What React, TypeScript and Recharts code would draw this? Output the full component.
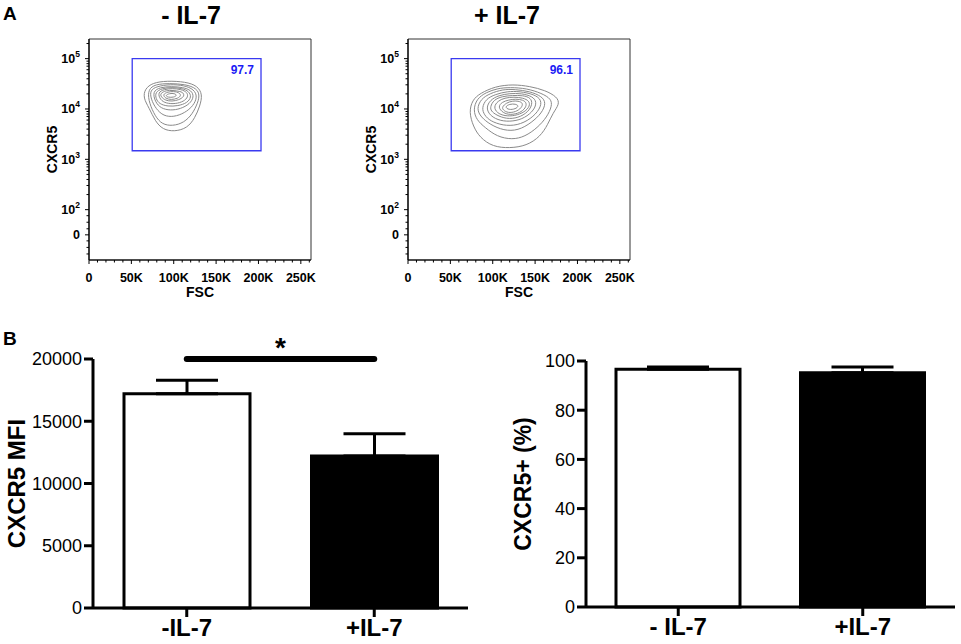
import React from 'react';
import {
  ScatterChart,
  Scatter,
  XAxis,
  YAxis,
  ReferenceArea,
  BarChart,
  Bar,
  Cell,
  ErrorBar,
  ReferenceLine,
} from 'recharts';

const FONT = 'Arial, "Liberation Sans", Helvetica, sans-serif';

// Panel A - contour levels, [FSC (K), log10 CXCR5], outer to inner
const minusContours: [number, number][][] = [
  [[66, 4.4], [75, 4.52], [92, 4.56], [114, 4.54], [128, 4.46], [134, 4.29], [131, 4.06], [125, 3.82], [116, 3.62], [101, 3.55], [87, 3.59], [78, 3.76], [71, 4.02], [64, 4.22]],
  [[70, 4.39], [78, 4.49], [95, 4.51], [114, 4.49], [127, 4.41], [131, 4.27], [127, 4.06], [120, 3.85], [109, 3.7], [95, 3.66], [84, 3.72], [76, 3.92], [70, 4.18]],
  [[72, 4.37], [80, 4.45], [96, 4.49], [112, 4.47], [124, 4.39], [128, 4.24], [123, 4.06], [113, 3.92], [100, 3.84], [88, 3.86], [79, 4.0], [73, 4.2]],
  [[75, 4.35], [84, 4.43], [97, 4.45], [111, 4.43], [121, 4.37], [124, 4.24], [119, 4.1], [108, 4.0], [96, 3.97], [85, 4.01], [78, 4.14]],
  [[78, 4.33], [86, 4.41], [98, 4.43], [110, 4.41], [118, 4.35], [121, 4.24], [116, 4.12], [105, 4.06], [93, 4.05], [83, 4.1], [79, 4.2]],
  [[81, 4.33], [89, 4.39], [98, 4.41], [109, 4.39], [116, 4.33], [117, 4.24], [112, 4.15], [102, 4.1], [91, 4.11], [84, 4.18]],
  [[84, 4.31], [91, 4.37], [99, 4.37], [108, 4.35], [112, 4.31], [112, 4.24], [106, 4.18], [98, 4.15], [90, 4.17], [85, 4.24]],
  [[87, 4.29], [93, 4.34], [100, 4.35], [106, 4.33], [109, 4.27], [105, 4.21], [97, 4.18], [90, 4.21]],
  [[90, 4.27], [95, 4.31], [101, 4.31], [104, 4.27], [100, 4.23], [93, 4.23]],
];

const plusContours: [number, number][][] = [
  [[72, 3.94], [76, 4.18], [85, 4.31], [103, 4.45], [124, 4.49], [144, 4.45], [162, 4.37], [176, 4.24], [179, 4.1], [171, 3.92], [165, 3.69], [156, 3.45], [140, 3.27], [120, 3.22], [100, 3.25], [85, 3.43], [77, 3.65]],
  [[77, 3.98], [81, 4.2], [92, 4.33], [106, 4.41], [120, 4.43], [140, 4.41], [158, 4.31], [169, 4.2], [170, 4.06], [164, 3.84], [153, 3.63], [138, 3.45], [123, 3.39], [105, 3.45], [91, 3.63], [81, 3.78]],
  [[81, 4.0], [86, 4.2], [97, 4.31], [112, 4.39], [126, 4.39], [144, 4.35], [158, 4.25], [163, 4.12], [158, 3.92], [146, 3.73], [130, 3.57], [113, 3.57], [97, 3.69], [86, 3.84]],
  [[87, 4.02], [92, 4.2], [103, 4.29], [117, 4.35], [132, 4.35], [149, 4.29], [158, 4.18], [156, 4.0], [145, 3.8], [129, 3.67], [112, 3.67], [97, 3.76], [90, 3.88]],
  [[92, 4.02], [97, 4.18], [107, 4.27], [120, 4.31], [134, 4.31], [147, 4.25], [152, 4.14], [149, 3.98], [138, 3.82], [124, 3.75], [109, 3.76], [97, 3.86]],
  [[97, 4.04], [101, 4.18], [111, 4.25], [123, 4.27], [136, 4.27], [145, 4.22], [147, 4.1], [142, 3.94], [130, 3.82], [116, 3.8], [104, 3.88], [98, 3.96]],
  [[101, 4.04], [106, 4.16], [114, 4.22], [125, 4.24], [136, 4.22], [143, 4.16], [144, 4.06], [138, 3.94], [126, 3.86], [114, 3.86], [105, 3.92]],
  [[106, 4.04], [111, 4.14], [119, 4.18], [127, 4.2], [136, 4.18], [140, 4.12], [139, 4.02], [132, 3.92], [121, 3.88], [112, 3.92]],
  [[111, 4.04], [116, 4.12], [123, 4.16], [130, 4.16], [136, 4.12], [134, 4.02], [127, 3.94], [118, 3.92], [112, 3.98]],
  [[114, 4.04], [120, 4.1], [127, 4.1], [131, 4.06], [127, 4.0], [119, 3.98]],
];

const gatePercents = ['97.7', '96.1'];
const gateFsc = [51, 203];
const gateCxcr5 = [3.17, 5.0];

const fscTicks = [0, 10, 20, 30, 40, 50, 60, 70, 80, 90, 100, 110, 120, 130, 140, 150, 160, 170, 180, 190, 200, 210, 220, 230, 240, 250, 260];
const cxcr5Major = [1.5, 2, 3, 4, 5];
const cxcr5Ticks = [
  1.12, 1.25, 1.38, 1.5, 1.62, 1.75, 1.88,
  2, 2.3, 2.48, 2.6, 2.7, 2.78, 2.85, 2.9, 2.95,
  3, 3.3, 3.48, 3.6, 3.7, 3.78, 3.85, 3.9, 3.95,
  4, 4.3, 4.48, 4.6, 4.7, 4.78, 4.85, 4.9, 4.95,
  5, 5.3,
];

// Panel B
const groupsMfi = ['-IL-7', '+IL-7'];
const groupsPct = ['- IL-7', '+IL-7'];
const mfiMean = [17200, 12200];
const mfiSem = [1100, 1800];
const pctMean = [96.6, 95.2];
const pctSem = [1.0, 2.4];
const barFills = ['#ffffff', '#000000'];
const mfiTicks = [0, 5000, 10000, 15000, 20000];
const pctTicks = [0, 20, 40, 60, 80, 100];

const mfiData = groupsMfi.map((name, i) => ({ name, value: mfiMean[i], err: [0, mfiSem[i]] }));
const pctData = groupsPct.map((name, i) => ({ name, value: pctMean[i], err: [0, pctSem[i]] }));

const renderNothing = () => <g />;

const renderFscTick = (props: any) => {
  const { x, y, payload } = props;
  const v = payload.value;
  const major = v % 50 === 0;
  return (
    <g>
      <line x1={x} x2={x} y1={y} y2={y + (major ? 4 : 2.5)} stroke="#000" strokeWidth={1} />
      {major && (
        <text x={x} y={y + 22} textAnchor="middle" fontSize={12.5} fontWeight="bold" fill="#000">
          {v === 0 ? '0' : `${v}K`}
        </text>
      )}
    </g>
  );
};

const renderCxcr5Tick = (props: any) => {
  const { x, y, payload } = props;
  const v = payload.value;
  const major = cxcr5Major.includes(v);
  return (
    <g>
      <line x1={x} x2={x - (major ? 4 : 2.5)} y1={y} y2={y} stroke="#000" strokeWidth={1} />
      {major &&
        (v === 1.5 ? (
          <text x={x - 9} y={y + 4.5} textAnchor="end" fontSize={12.5} fontWeight="bold" fill="#000">
            0
          </text>
        ) : (
          <text x={x - 9} y={y + 4.5} textAnchor="end" fontSize={12.5} fontWeight="bold" fill="#000">
            10
            <tspan dy={-6} fontSize={8.5}>
              {String(v)}
            </tspan>
          </text>
        ))}
    </g>
  );
};

const FlowPlot = ({ contours, pct, left }: { contours: [number, number][][]; pct: string; left: number }) => (
  <div style={{ position: 'absolute', left, top: 0 }}>
    <ScatterChart width={330} height={310} margin={{ top: 39, right: 19, bottom: 10, left: 39 }}>
      <XAxis
        type="number"
        dataKey="x"
        domain={[0, 262]}
        ticks={fscTicks}
        interval={0}
        allowDataOverflow
        tick={renderFscTick}
        tickSize={0}
        tickMargin={0}
        tickLine={false}
        axisLine={{ stroke: '#000', strokeWidth: 1.2 }}
        height={40}
        label={{ value: 'FSC', position: 'insideBottom', offset: 3, fontSize: 14, fontWeight: 'bold', fill: '#000' }}
      />
      <YAxis
        type="number"
        dataKey="y"
        domain={[1, 5.39]}
        ticks={cxcr5Ticks}
        interval={0}
        allowDataOverflow
        tick={renderCxcr5Tick}
        tickSize={0}
        tickMargin={0}
        tickLine={false}
        axisLine={{ stroke: '#000', strokeWidth: 1.2 }}
        width={50}
        label={{
          value: 'CXCR5',
          angle: -90,
          position: 'insideLeft',
          offset: 13,
          fontSize: 14,
          fontWeight: 'bold',
          fill: '#000',
          style: { textAnchor: 'middle' },
        }}
      />
      <ReferenceArea x1={0} x2={262} y1={1} y2={5.39} fill="none" fillOpacity={0} stroke="#333" strokeWidth={1} />
      <ReferenceArea
        x1={gateFsc[0]}
        x2={gateFsc[1]}
        y1={gateCxcr5[0]}
        y2={gateCxcr5[1]}
        fill="none"
        fillOpacity={0}
        stroke="#3a3af0"
        strokeWidth={1.3}
        label={{ value: pct, position: 'insideTopRight', offset: 7, fontSize: 12, fontWeight: 'bold', fill: '#1c1cf5' }}
      />
      {contours.map((c, i) => (
        <Scatter
          key={i}
          data={c.map(([x, y]) => ({ x, y }))}
          line={{ stroke: '#8a8a8a', strokeWidth: 1 }}
          lineJointType="basisClosed"
          shape={renderNothing}
          isAnimationActive={false}
        />
      ))}
    </ScatterChart>
  </div>
);

const axisStroke = { stroke: '#000', strokeWidth: 3 };

export default function App() {
  return (
    <div
      style={{
        position: 'absolute',
        left: 0,
        top: 0,
        width: 961,
        height: 644,
        background: '#fff',
        fontFamily: FONT,
        overflow: 'hidden',
      }}
    >
      <div style={{ position: 'absolute', left: 3, top: 4, fontSize: 19, fontWeight: 'bold', lineHeight: 1 }}>A</div>
      <div style={{ position: 'absolute', left: 3, top: 329, fontSize: 19, fontWeight: 'bold', lineHeight: 1 }}>B</div>
      <div style={{ position: 'absolute', left: 91, top: 3, width: 200, textAlign: 'center', fontSize: 25, fontWeight: 'bold', lineHeight: 1 }}>
        - IL-7
      </div>
      <div style={{ position: 'absolute', left: 407, top: 3, width: 200, textAlign: 'center', fontSize: 25, fontWeight: 'bold', lineHeight: 1 }}>
        + IL-7
      </div>

      <FlowPlot contours={minusContours} pct={gatePercents[0]} left={0} />
      <FlowPlot contours={plusContours} pct={gatePercents[1]} left={319} />

      <div style={{ position: 'absolute', left: 0, top: 320 }}>
        <BarChart width={480} height={324} data={mfiData} margin={{ top: 39, right: 12, bottom: 0, left: 0 }} barSize={126}>
          <XAxis
            dataKey="name"
            interval={0}
            axisLine={axisStroke}
            tickLine={axisStroke}
            tickSize={9}
            tickMargin={2}
            height={36}
            tick={{ fill: '#000', fontSize: 24, fontWeight: 'bold' }}
          />
          <YAxis
            domain={[0, 20000]}
            ticks={mfiTicks}
            interval={0}
            width={93}
            axisLine={axisStroke}
            tickLine={axisStroke}
            tickSize={9}
            tickMargin={2}
            tick={{ fill: '#000', fontSize: 18 }}
            label={{
              value: 'CXCR5 MFI',
              angle: -90,
              position: 'insideLeft',
              offset: 16,
              fontSize: 24,
              fontWeight: 'bold',
              fill: '#000',
              style: { textAnchor: 'middle' },
            }}
          />
          <ReferenceLine
            segment={[
              { x: groupsMfi[0], y: 20000 },
              { x: groupsMfi[1], y: 20000 },
            ]}
            stroke="#000"
            strokeWidth={6}
            strokeLinecap="round"
            ifOverflow="visible"
            label={{ value: '*', position: 'top', offset: 2, fontSize: 28, fontWeight: 'bold', fill: '#000' }}
          />
          <Bar dataKey="value" stroke="#000" strokeWidth={3} isAnimationActive={false}>
            {mfiData.map((d, i) => (
              <Cell key={d.name} fill={barFills[i]} />
            ))}
            <ErrorBar dataKey="err" width={31} stroke="#000" strokeWidth={3} />
          </Bar>
        </BarChart>
      </div>

      <div style={{ position: 'absolute', left: 480, top: 320 }}>
        <BarChart width={481} height={324} data={pctData} margin={{ top: 41, right: 6, bottom: 0, left: 0 }} barSize={124}>
          <XAxis
            dataKey="name"
            interval={0}
            axisLine={axisStroke}
            tickLine={axisStroke}
            tickSize={9}
            tickMargin={2}
            height={37}
            tick={{ fill: '#000', fontSize: 24, fontWeight: 'bold' }}
          />
          <YAxis
            domain={[0, 100]}
            ticks={pctTicks}
            interval={0}
            width={106}
            axisLine={axisStroke}
            tickLine={axisStroke}
            tickSize={9}
            tickMargin={2}
            tick={{ fill: '#000', fontSize: 18 }}
            label={{
              value: 'CXCR5+ (%)',
              angle: -90,
              position: 'insideLeft',
              offset: 43,
              fontSize: 23,
              fontWeight: 'bold',
              fill: '#000',
              style: { textAnchor: 'middle' },
            }}
          />
          <Bar dataKey="value" stroke="#000" strokeWidth={3} isAnimationActive={false}>
            {pctData.map((d, i) => (
              <Cell key={d.name} fill={barFills[i]} />
            ))}
            <ErrorBar dataKey="err" width={31} stroke="#000" strokeWidth={3} />
          </Bar>
        </BarChart>
      </div>
    </div>
  );
}
